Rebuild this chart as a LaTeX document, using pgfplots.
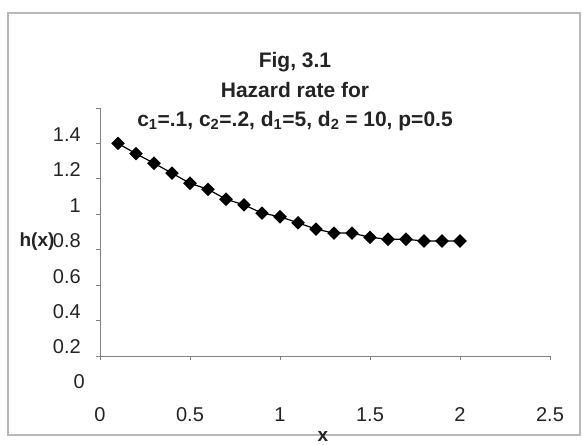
\documentclass[border=0pt]{standalone}
\usepackage{fontspec}
\setmainfont{Liberation Sans}
\usepackage{pgfplots}
\pgfplotsset{compat=1.18}
\definecolor{axgray}{RGB}{130,130,130}
\definecolor{txt}{RGB}{35,35,35}
\begin{document}
\begin{tikzpicture}[x=1pt,y=1pt]
\path[use as bounding box] (0,0) rectangle (583,444);
\draw[line width=1.2pt, black!28] (8,9) rectangle (580,431);
\begin{axis}[
  at={(100pt,88pt)}, anchor=south west,
  scale only axis, width=450pt, height=248pt,
  xmin=0, xmax=2.5, ymin=0.2, ymax=1.6,
  clip=false,
  axis lines=left,
  axis line style={-, axgray, line width=0.8pt},
  tick style={axgray, line width=0.8pt},
  tick align=outside, major tick length=4pt,
  xtick={0,0.5,1,1.5,2,2.5},
  xticklabels={0,0.5,1,1.5,2,2.5},
  ytick={0.2,0.4,0.6,0.8,1,1.2,1.4,1.6},
  yticklabels={0.2,0.4,0.6,0.8,1,1.2,1.4,{}},
  /pgf/number format/assume math mode=true,
  ticklabel style={font=\fontsize{20}{24}\selectfont, text=txt, inner sep=0pt},
  yticklabel style={anchor=east, xshift=-15pt, yshift=9pt},
  xticklabel style={anchor=center, yshift=-55pt},
  xlabel={x},
  xlabel style={at={(axis description cs:0.4956,-0.323)}, anchor=center, inner sep=0pt, font=\bfseries\fontsize{19}{22}\selectfont, text=txt},
  ylabel={h(x)},
  ylabel style={at={(axis description cs:-0.14,0.46)}, anchor=center, rotate=-90, inner sep=0pt, font=\bfseries\fontsize{19}{22}\selectfont, text=txt},
  title={Fig, 3.1\\Hazard rate for\\c\textsubscript{1}=.1, c\textsubscript{2}=.2, d\textsubscript{1}=5, d\textsubscript{2} = 10, p=0.5},
  title style={at={(axis description cs:0.4333,1.042)}, anchor=center, align=center, inner sep=0pt, font=\bfseries\fontsize{21}{29.5}\selectfont, text=txt},
]
\addplot[black, line width=1.2pt, mark=square*, mark size=4.2pt, mark options={rotate=45}] coordinates {
(0.1,1.400)(0.2,1.342)(0.3,1.288)(0.4,1.232)(0.5,1.175)(0.6,1.141)(0.7,1.085)
(0.8,1.053)(0.9,1.007)(1.0,0.986)(1.1,0.952)(1.2,0.916)(1.3,0.894)(1.4,0.894)
(1.5,0.870)(1.6,0.859)(1.7,0.859)(1.8,0.849)(1.9,0.849)(2.0,0.849)
};
\node[anchor=east, inner sep=0pt, xshift=-15pt, yshift=-26pt, font=\fontsize{20}{24}\selectfont, text=txt] at (axis cs:0,0.2) {0};
\end{axis}
\end{tikzpicture}
\end{document}
